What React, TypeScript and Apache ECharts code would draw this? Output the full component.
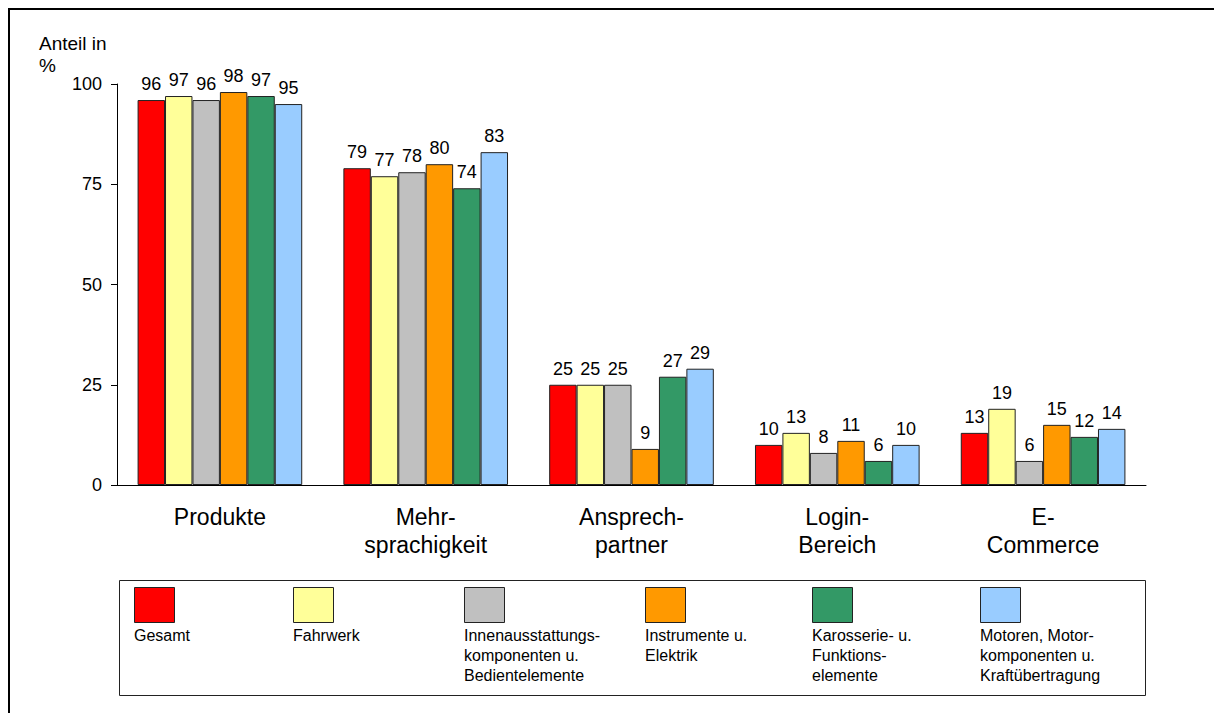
import React, { useEffect, useRef } from "react";
import * as echarts from "echarts";

const categories = ["Produkte", "Mehr-\nsprachigkeit", "Ansprech-\npartner", "Login-\nBereich", "E-\nCommerce"];
const seriesNames = [
  "Gesamt",
  "Fahrwerk",
  "Innenausstattungs-\nkomponenten u.\nBedientelemente",
  "Instrumente u.\nElektrik",
  "Karosserie- u.\nFunktions-\nelemente",
  "Motoren, Motor-\nkomponenten u.\nKraftübertragung",
];
const colors = ["#FF0000", "#FFFF99", "#C0C0C0", "#FF9900", "#339966", "#99CCFF"];
const gesamt = [96, 79, 25, 10, 13];
const fahrwerk = [97, 77, 25, 13, 19];
const innen = [96, 78, 25, 8, 6];
const instrumente = [98, 80, 9, 11, 15];
const karosserie = [97, 74, 27, 6, 12];
const motoren = [95, 83, 29, 10, 14];
const seriesValues = [gesamt, fahrwerk, innen, instrumente, karosserie, motoren];
const yTicks = [0, 25, 50, 75, 100];

const legendX = [134, 293, 464, 645, 812, 980];
const FONT = "'Liberation Sans', Arial, sans-serif";

export default function App() {
  const ref = useRef<HTMLDivElement>(null);
  useEffect(() => {
    if (!ref.current) return;
    const chart = echarts.init(ref.current, null, { renderer: "svg" });
    const legendGraphics: any[] = [];
    seriesNames.forEach((name, i) => {
      legendGraphics.push({
        type: "rect",
        shape: { x: legendX[i] + 0.5, y: 587.5, width: 40, height: 35 },
        style: { fill: colors[i], stroke: "#222", lineWidth: 1 },
      });
      legendGraphics.push({
        type: "text",
        x: legendX[i],
        y: 625,
        style: {
          text: name,
          fill: "#000",
          font: `16px ${FONT}`,
          lineHeight: 20,
          textAlign: "left",
          textVerticalAlign: "top",
        },
      });
    });
    chart.setOption({
      animation: false,
      backgroundColor: "#fff",
      textStyle: { fontFamily: FONT },
      grid: { left: 117, right: 68, top: 84, bottom: 228, containLabel: false },
      xAxis: {
        type: "category",
        data: categories,
        axisLine: { lineStyle: { color: "#000", width: 1 } },
        axisTick: { show: false },
        axisLabel: {
          color: "#000",
          fontSize: 23,
          lineHeight: 28,
          margin: 18,
          interval: 0,
          fontFamily: FONT,
        },
      },
      yAxis: {
        type: "value",
        min: yTicks[0],
        max: yTicks[yTicks.length - 1],
        interval: 25,
        splitLine: { show: false },
        axisLine: { show: true, lineStyle: { color: "#000", width: 1 } },
        axisTick: { show: true, length: 6, lineStyle: { color: "#000" } },
        axisLabel: { color: "#000", fontSize: 18, margin: 15, fontFamily: FONT },
      },
      series: seriesNames.map((name, i) => ({
        name,
        type: "bar",
        data: seriesValues[i],
        barGap: "0%",
        barCategoryGap: "20%",
        itemStyle: { color: colors[i], borderColor: "#222", borderWidth: 1 },
        label: {
          show: true,
          position: "top",
          distance: 7,
          color: "#000",
          fontSize: 18,
          fontFamily: FONT,
        },
      })),
      graphic: [
        {
          type: "rect",
          shape: { x: 9, y: 9, width: 1300, height: 800 },
          style: { fill: "none", stroke: "#000", lineWidth: 2 },
          silent: true,
        },
        {
          type: "text",
          x: 39,
          y: 32,
          style: {
            text: "Anteil in\n%",
            fill: "#000",
            font: `19px ${FONT}`,
            lineHeight: 22,
            textAlign: "left",
            textVerticalAlign: "top",
          },
        },
        {
          type: "rect",
          shape: { x: 119.5, y: 580.5, width: 1026, height: 115 },
          style: { fill: "none", stroke: "#222", lineWidth: 1 },
        },
        ...legendGraphics,
      ],
    });
    return () => chart.dispose();
  }, []);
  return (
    <div
      ref={ref}
      style={{ position: "fixed", left: 0, top: 0, width: 1214, height: 713, background: "#fff" }}
    />
  );
}
